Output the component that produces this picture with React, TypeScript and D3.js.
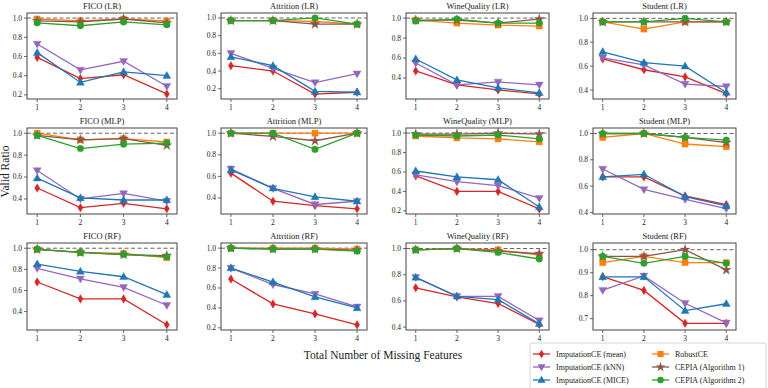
import React from 'react';
import * as d3 from 'd3';

const W = 768;
const H = 388;
const FONT = '"Liberation Serif", "DejaVu Serif", serif';

const xValues = [1, 2, 3, 4];
const datasets = ['FICO', 'Attrition', 'WineQuality', 'Student'];
const models = ['LR', 'MLP', 'RF'];

const methodNames = [
  'ImputationCE (mean)',
  'ImputationCE (kNN)',
  'ImputationCE (MICE)',
  'RobustCE',
  'CEPIA (Algorithm 1)',
  'CEPIA (Algorithm 2)',
];
const methodColors = ['#d62728', '#9467bd', '#1f77b4', '#ff7f0e', '#8c564b', '#2ca02c'];
const methodMarkers = ['thinDiamond', 'triangleDown', 'triangleUp', 'square', 'star', 'circle'];

// each panel: [mean, kNN, MICE, RobustCE, CEPIA1, CEPIA2]
const ficoLR = [
  [0.59, 0.37, 0.41, 0.21],
  [0.73, 0.46, 0.55, 0.29],
  [0.64, 0.33, 0.44, 0.40],
  [0.99, 0.97, 0.99, 0.97],
  [0.97, 0.96, 0.99, 0.95],
  [0.95, 0.92, 0.96, 0.93],
];
const attritionLR = [
  [0.46, 0.40, 0.14, 0.16],
  [0.60, 0.43, 0.27, 0.37],
  [0.56, 0.46, 0.17, 0.16],
  [0.97, 0.97, 0.96, 0.93],
  [0.97, 0.97, 0.93, 0.93],
  [0.97, 0.97, 1.0, 0.93],
];
const wineLR = [
  [0.47, 0.33, 0.28, 0.24],
  [0.55, 0.33, 0.36, 0.33],
  [0.59, 0.38, 0.30, 0.25],
  [0.98, 0.95, 0.93, 0.92],
  [0.98, 0.98, 0.95, 0.99],
  [0.97, 0.99, 0.95, 0.95],
];
const studentLR = [
  [0.66, 0.57, 0.51, 0.37],
  [0.67, 0.61, 0.45, 0.43],
  [0.72, 0.63, 0.60, 0.38],
  [0.97, 0.91, 0.97, 0.97],
  [0.97, 0.97, 0.97, 0.97],
  [0.97, 0.97, 1.0, 0.97],
];
const ficoMLP = [
  [0.50, 0.32, 0.36, 0.31],
  [0.66, 0.40, 0.45, 0.38],
  [0.59, 0.41, 0.39, 0.39],
  [1.0, 0.94, 0.95, 0.92],
  [0.98, 0.94, 0.95, 0.89],
  [0.98, 0.86, 0.90, 0.91],
];
const attritionMLP = [
  [0.63, 0.37, 0.33, 0.30],
  [0.67, 0.49, 0.34, 0.37],
  [0.66, 0.49, 0.41, 0.37],
  [1.0, 1.0, 1.0, 1.0],
  [1.0, 0.97, 0.93, 1.0],
  [1.0, 1.0, 0.85, 1.0],
];
const wineMLP = [
  [0.56, 0.40, 0.40, 0.22],
  [0.57, 0.50, 0.46, 0.33],
  [0.61, 0.55, 0.52, 0.24],
  [0.97, 0.95, 0.94, 0.91],
  [0.99, 0.99, 1.0, 0.99],
  [0.98, 0.97, 0.98, 0.94],
];
const studentMLP = [
  [0.67, 0.67, 0.525, 0.46],
  [0.73, 0.575, 0.50, 0.43],
  [0.67, 0.69, 0.52, 0.45],
  [0.97, 1.0, 0.92, 0.90],
  [1.0, 1.0, 0.97, 0.93],
  [1.0, 1.0, 0.97, 0.95],
];
const ficoRF = [
  [0.68, 0.52, 0.52, 0.275],
  [0.81, 0.71, 0.63, 0.46],
  [0.85, 0.78, 0.73, 0.56],
  [0.99, 0.96, 0.95, 0.91],
  [0.99, 0.96, 0.94, 0.93],
  [0.99, 0.96, 0.94, 0.92],
];
const attritionRF = [
  [0.69, 0.44, 0.34, 0.23],
  [0.80, 0.635, 0.54, 0.41],
  [0.80, 0.66, 0.51, 0.40],
  [1.0, 1.0, 1.0, 0.99],
  [1.0, 0.99, 0.99, 0.98],
  [1.0, 0.99, 0.99, 0.97],
];
const wineRF = [
  [0.70, 0.63, 0.58, 0.42],
  [0.78, 0.635, 0.635, 0.45],
  [0.78, 0.635, 0.61, 0.425],
  [0.99, 1.0, 0.99, 0.95],
  [0.99, 1.0, 0.98, 0.96],
  [0.99, 1.0, 0.97, 0.92],
];
const studentRF = [
  [0.883, 0.823, 0.68, 0.68],
  [0.824, 0.886, 0.767, 0.682],
  [0.882, 0.882, 0.735, 0.765],
  [0.944, 0.971, 0.944, 0.944],
  [0.971, 0.971, 1.0, 0.912],
  [0.971, 0.941, 0.971, 0.941],
];

const panelData = [
  [ficoLR, attritionLR, wineLR, studentLR],
  [ficoMLP, attritionMLP, wineMLP, studentMLP],
  [ficoRF, attritionRF, wineRF, studentRF],
];

const panelTicks = [
  [[0.2, 0.4, 0.6, 0.8, 1.0], [0.2, 0.4, 0.6, 0.8, 1.0], [0.4, 0.6, 0.8, 1.0], [0.4, 0.6, 0.8, 1.0]],
  [[0.4, 0.6, 0.8, 1.0], [0.4, 0.6, 0.8, 1.0], [0.2, 0.4, 0.6, 0.8, 1.0], [0.4, 0.6, 0.8, 1.0]],
  [[0.4, 0.6, 0.8, 1.0], [0.2, 0.4, 0.6, 0.8, 1.0], [0.4, 0.6, 0.8, 1.0], [0.7, 0.8, 0.9, 1.0]],
];

// layout
const colLeft = [27, 221, 406, 593];
const colRight = [177, 367, 549, 736];
const rowTop = [13, 128, 243];
const rowBottom = [99, 214, 330];

const markerPath = (kind: string) => {
  switch (kind) {
    case 'circle':
      return d3.symbol(d3.symbolCircle, 34)()!;
    case 'square':
      return d3.symbol(d3.symbolSquare, 38)()!;
    case 'triangleUp':
      return 'M0,-4.2L4,2.8L-4,2.8Z';
    case 'triangleDown':
      return 'M0,4.2L4,-2.8L-4,-2.8Z';
    case 'star':
      return d3.symbol(d3.symbolStar, 30)()!;
    case 'thinDiamond':
    default:
      return 'M0,-4.3L2.6,0L0,4.3L-2.6,0Z';
  }
};

const Panel = ({ row, col }: { row: number; col: number }) => {
  const series = panelData[row][col];
  const ticks = panelTicks[row][col];
  const left = colLeft[col];
  const right = colRight[col];
  const top = rowTop[row];
  const bottom = rowBottom[row];

  const all = series.flat();
  const lo = Math.min(...all) - 0.012;
  const hi = Math.max(1, Math.max(...all)) + 0.012;
  const pad = (hi - lo) * 0.05;

  const x = d3.scaleLinear().domain([0.764, 4.236]).range([left, right]);
  const y = d3.scaleLinear().domain([lo - pad, hi + pad]).range([bottom, top]);
  const line = d3
    .line<number>()
    .x((_, i) => x(xValues[i]))
    .y((d) => y(d));

  const title = `${datasets[col]} (${models[row]})`;

  return (
    <g>
      <text
        x={(left + right) / 2}
        y={top - 4}
        textAnchor="middle"
        fontSize={8.5}
        fill="#222"
      >
        {title}
      </text>
      <line
        x1={left}
        x2={right}
        y1={y(1)}
        y2={y(1)}
        stroke="#666"
        strokeWidth={1}
        strokeDasharray="4,2.5"
      />
      {series.map((vals, si) => (
        <g key={si}>
          <path
            d={line(vals)!}
            fill="none"
            stroke={methodColors[si]}
            strokeWidth={1.3}
          />
          {vals.map((v, i) => (
            <path
              key={i}
              d={markerPath(methodMarkers[si])}
              transform={`translate(${x(xValues[i])},${y(v)})`}
              fill={methodColors[si]}
              stroke={methodColors[si]}
              strokeOpacity={0.6}
              strokeWidth={0.6}
            />
          ))}
        </g>
      ))}
      <rect
        x={left}
        y={top}
        width={right - left}
        height={bottom - top}
        fill="none"
        stroke="#444"
        strokeWidth={1}
      />
      {ticks.map((t) => (
        <g key={t}>
          <line x1={left - 3} x2={left} y1={y(t)} y2={y(t)} stroke="#444" strokeWidth={0.8} />
          <text
            x={left - 5}
            y={y(t)}
            dy="0.33em"
            textAnchor="end"
            fontSize={7.5}
            fill="#222"
          >
            {t.toFixed(1)}
          </text>
        </g>
      ))}
      {xValues.map((t) => (
        <g key={t}>
          <line x1={x(t)} x2={x(t)} y1={bottom} y2={bottom + 3} stroke="#444" strokeWidth={0.8} />
          <text x={x(t)} y={bottom + 11} textAnchor="middle" fontSize={7.5} fill="#222">
            {t}
          </text>
        </g>
      ))}
    </g>
  );
};

const Legend = () => {
  const bx = 530;
  const by = 343;
  const rows = [354, 367, 380];
  const colX = [533, 652];
  return (
    <g>
      <rect x={bx} y={by} width={236} height={50} rx={2} fill="#fff" stroke="#ccc" strokeWidth={0.8} />
      {methodNames.map((name, i) => {
        const c = Math.floor(i / 3);
        const r = i % 3;
        const lx = colX[c];
        const ly = rows[r];
        return (
          <g key={name}>
            <line x1={lx} x2={lx + 17} y1={ly} y2={ly} stroke={methodColors[i]} strokeWidth={1.3} />
            <path
              d={markerPath(methodMarkers[i])}
              transform={`translate(${lx + 8.5},${ly})`}
              fill={methodColors[i]}
            />
            <text x={lx + 23} y={ly} dy="0.33em" fontSize={8} fill="#222">
              {name}
            </text>
          </g>
        );
      })}
    </g>
  );
};

export default function App() {
  return (
    <div style={{ position: 'absolute', left: 0, top: 0 }}>
      <svg width={W} height={H} style={{ display: 'block', background: '#fff', fontFamily: FONT }}>
        {models.map((_, r) =>
          datasets.map((__, c) => <Panel key={`${r}-${c}`} row={r} col={c} />)
        )}
        <text
          transform={`translate(9,${(rowTop[0] + rowBottom[2]) / 2}) rotate(-90)`}
          textAnchor="middle"
          fontSize={11.5}
          fill="#222"
        >
          Valid Ratio
        </text>
        <text x={383} y={359} textAnchor="middle" fontSize={11.5} fill="#222">
          Total Number of Missing Features
        </text>
        <Legend />
      </svg>
    </div>
  );
}
